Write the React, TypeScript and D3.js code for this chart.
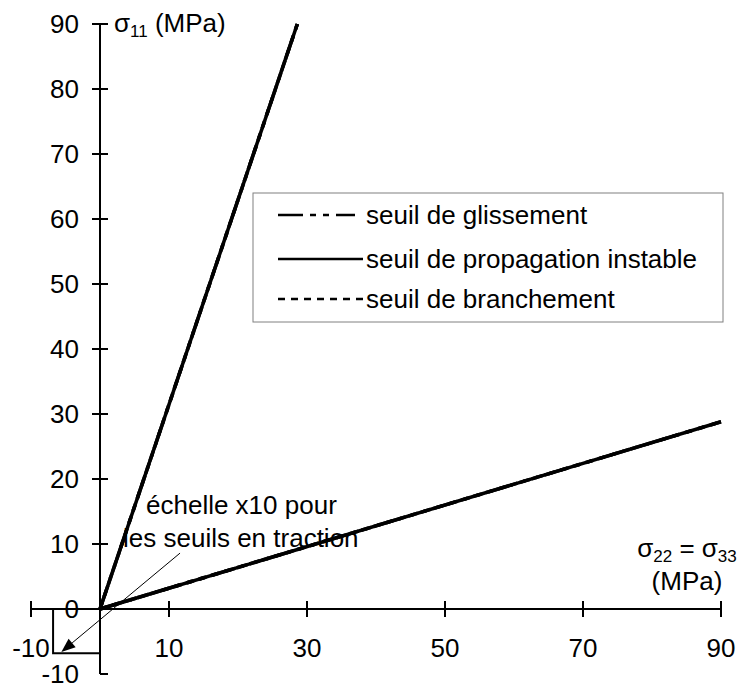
import React from "react";
import * as d3 from "d3";

// ---- data ----
const seriesNames = ["seuil de glissement", "seuil de propagation instable", "seuil de branchement"];
const seriesDash = ["25,7,6,7,6,7", "", "7,6"];
// branch 1 (steep): sigma22 vs sigma11
const steepSigma22 = [0, 28.6];
const steepSigma11 = [0, 90];
// branch 2 (shallow)
const shallowSigma22 = [0, 90];
const shallowSigma11 = [0, 28.8];

const yTicks = [-10, 0, 10, 20, 30, 40, 50, 60, 70, 80, 90];
const xTicks = [-10, 10, 30, 50, 70, 90];

// annotation (data units of the main scale)
const tensionBoxCorner: [number, number] = [-6.8, -6.8];
const arrowStart: [number, number] = [11.6, 8.6];
const arrowEnd: [number, number] = [-5.6, -6.6];

const W = 741;
const H = 684;
const FONT = "'Liberation Sans', Arial, sans-serif";
const FS = 26;

export default function App() {
  const x = d3.scaleLinear().domain([-10, 90]).range([31, 721]);
  const y = d3.scaleLinear().domain([-10, 90]).range([674, 24]);
  const line = d3
    .line<[number, number]>()
    .x((d) => x(d[0]))
    .y((d) => y(d[1]));

  const branches: [number, number][][] = [
    steepSigma22.map((v, i) => [v, steepSigma11[i]] as [number, number]),
    shallowSigma22.map((v, i) => [v, shallowSigma11[i]] as [number, number]),
  ];

  const x0 = x(0);
  const y0 = y(0);

  // arrow
  const ax1 = x(arrowStart[0]);
  const ay1 = y(arrowStart[1]);
  const ax2 = x(arrowEnd[0]);
  const ay2 = y(arrowEnd[1]);
  const ang = Math.atan2(ay2 - ay1, ax2 - ax1);
  const hl = 14;
  const hw = 5.5;
  const bx = ax2 - hl * Math.cos(ang);
  const by = ay2 - hl * Math.sin(ang);
  const head = `M${ax2},${ay2} L${bx + hw * Math.sin(ang)},${by - hw * Math.cos(ang)} L${bx - hw * Math.sin(ang)},${by + hw * Math.cos(ang)} Z`;

  const legendRows = [215, 259, 299];

  return (
    <svg
      width={W}
      height={H}
      style={{ position: "absolute", left: 0, top: 0, background: "#fff" }}
      fontFamily={FONT}
    >
      <rect x={0} y={0} width={W} height={H} fill="#fff" />
      {/* axes */}
      <line x1={x0} x2={x0} y1={y(90)} y2={y(-10)} stroke="#000" strokeWidth={2} />
      <line x1={x(-10)} x2={x(90)} y1={y0} y2={y0} stroke="#000" strokeWidth={2} />
      {yTicks.map((t) => (
        <g key={"yt" + t}>
          <line
            x1={t === -10 ? x0 : x0 - 8}
            x2={x0 + 8}
            y1={y(t)}
            y2={y(t)}
            stroke="#000"
            strokeWidth={2}
          />
          <text x={x0 - 21} y={y(t)} dy="0.36em" textAnchor="end" fontSize={FS} fill="#000">
            {t}
          </text>
        </g>
      ))}
      {xTicks.map((t) => (
        <g key={"xt" + t}>
          <line x1={x(t)} x2={x(t)} y1={y0 - 8} y2={y0 + 8} stroke="#000" strokeWidth={2} />
          <text x={x(t)} y={648} dy="0.36em" textAnchor="middle" fontSize={FS} fill="#000">
            {t}
          </text>
        </g>
      ))}

      {/* axis titles */}
      <text x={114} y={32} fontSize={FS} fill="#000">
        σ<tspan fontSize={17} dy={5}>11</tspan>
        <tspan dy={-5}> (MPa)</tspan>
      </text>
      <text x={687} y={557} fontSize={FS} textAnchor="middle" fill="#000">
        σ<tspan fontSize={17} dy={5}>22</tspan>
        <tspan dy={-5}> = σ</tspan>
        <tspan fontSize={17} dy={5}>33</tspan>
      </text>
      <text x={687} y={590} fontSize={FS} textAnchor="middle" fill="#000">
        (MPa)
      </text>

      {/* tension box */}
      <path
        d={`M${x(tensionBoxCorner[0])},${y0} L${x(tensionBoxCorner[0])},${y(tensionBoxCorner[1])} L${x0},${y(tensionBoxCorner[1])}`}
        fill="none"
        stroke="#000"
        strokeWidth={2}
      />

      {/* annotation text */}
      <text x={146} y={514} fontSize={FS} fill="#000">
        échelle x10 pour
      </text>
      <text x={123} y={547} fontSize={FS} fill="#000">
        les seuils en traction
      </text>

      {/* arrow */}
      <line x1={ax1} y1={ay1} x2={bx} y2={by} stroke="#000" strokeWidth={1} />
      <path d={head} fill="#000" />

      {/* series */}
      {seriesNames.map((name, si) =>
        branches.map((b, bi) => (
          <path
            key={name + bi}
            d={line(b) || ""}
            fill="none"
            stroke="#000"
            strokeWidth={3.5}
            strokeDasharray={seriesDash[si] || undefined}
          />
        ))
      )}

      {/* legend */}
      <rect x={253} y={193} width={470} height={129} fill="#fff" stroke="#808080" strokeWidth={1} />
      {seriesNames.map((name, i) => (
        <g key={"lg" + i}>
          <line
            x1={278}
            x2={i === 0 ? 355 : i === 1 ? 363 : 365}
            y1={legendRows[i]}
            y2={legendRows[i]}
            stroke="#000"
            strokeWidth={2.5}
            strokeDasharray={seriesDash[i] || undefined}
          />
          <text x={366} y={legendRows[i]} dy="0.35em" fontSize={FS} fill="#000">
            {name}
          </text>
        </g>
      ))}
    </svg>
  );
}
